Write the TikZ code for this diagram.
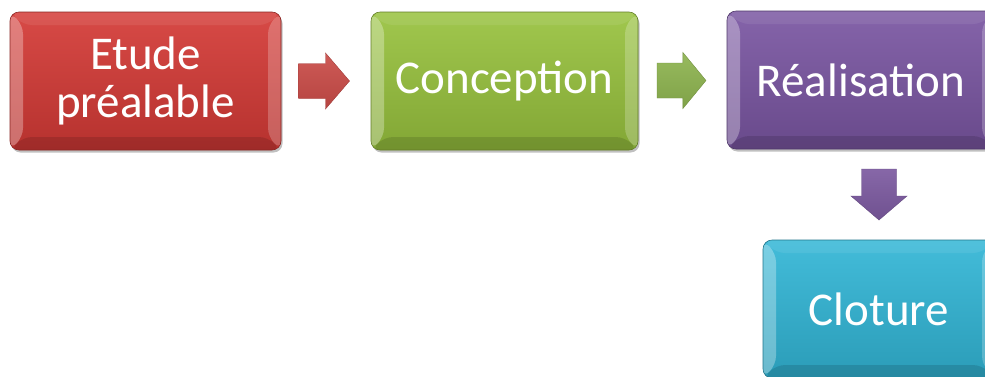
\documentclass[tikz,border=0pt]{standalone}
\usepackage{fontspec}
\setmainfont{Carlito}
\usetikzlibrary{shadows,calc}

\definecolor{stepred}{RGB}{212,58,54}
\definecolor{stepgreen}{RGB}{152,194,62}
\definecolor{steppurple}{RGB}{122,86,162}
\definecolor{stepcyan}{RGB}{50,182,214}
\definecolor{arrowred}{RGB}{202,76,72}
\definecolor{arrowgreen}{RGB}{142,180,80}
\definecolor{arrowpurple}{RGB}{124,90,160}

\tikzset{
  bevelbox/.style={
    rounded corners=9pt, minimum width=268pt, minimum height=138pt,
    inner sep=0pt, text=white, align=center,
    font=\fontsize{47}{48}\selectfont,
    top color=#1!92!white, bottom color=#1!86!black,
    draw=#1!65!black, line width=0.6pt,
    drop shadow={shadow xshift=1.5pt, shadow yshift=-2.5pt, opacity=0.35, fill=black!70},
    path picture={
      % left bevel face (light)
      \fill[white, opacity=0.30]
        (path picture bounding box.north west) -- (path picture bounding box.south west)
        -- ([shift={(13pt,13pt)}]path picture bounding box.south west)
        -- ([shift={(13pt,-13pt)}]path picture bounding box.north west) -- cycle;
      % right bevel face
      \fill[white, opacity=0.22]
        (path picture bounding box.north east) -- (path picture bounding box.south east)
        -- ([shift={(-13pt,13pt)}]path picture bounding box.south east)
        -- ([shift={(-13pt,-13pt)}]path picture bounding box.north east) -- cycle;
      % top bevel face
      \fill[white, opacity=0.08]
        (path picture bounding box.north west) -- (path picture bounding box.north east)
        -- ([shift={(-13pt,-13pt)}]path picture bounding box.north east)
        -- ([shift={(13pt,-13pt)}]path picture bounding box.north west) -- cycle;
      % bottom bevel face (dark)
      \fill[black, opacity=0.12]
        (path picture bounding box.south west) -- (path picture bounding box.south east)
        -- ([shift={(-13pt,13pt)}]path picture bounding box.south east)
        -- ([shift={(13pt,13pt)}]path picture bounding box.south west) -- cycle;
    }
  },
  % block arrow pointing along +x, centred on its position
  blockarrow/.pic={
    \path[pic actions]
      (-25.5,-17.5) -- (1.5,-17.5) -- (1.5,-28) -- (25.5,0)
      -- (1.5,28) -- (1.5,17.5) -- (-25.5,17.5) -- cycle;
  },
  arrowfill/.style={
    top color=#1!92!white, bottom color=#1!90!black,
    draw=#1!80!black, line width=0.4pt, line join=miter
  }
}

\begin{document}
\begin{tikzpicture}[x=1pt,y=-1pt]
  \path[use as bounding box] (0,0) rectangle (985,376);
  \fill[white] (0,0) rectangle (985,376);
  \clip (0,0) rectangle (985,376);

  % process steps
  \node[bevelbox=stepred, minimum width=271pt] (etude) at (145.5,81) {Etude\\préalable};
  \node[bevelbox=stepgreen, minimum width=267pt] (conception) at (504.5,81) {Conception};
  \node[bevelbox=steppurple] (realisation) at (861,80) {Réalisation};
  \node[bevelbox=stepcyan, minimum width=232pt] (cloture) at (879,309) {Cloture};

  % block arrows between the steps
  \coordinate (m1) at ($(etude.east)!0.5!(conception.west)+(-2,0)$);
  \coordinate (m2) at ($(conception.east)!0.5!(realisation.west)+(-1,0)$);
  \coordinate (m3) at ($(realisation.south)!0.5!(cloture.north)+(9,0)$);
  \pic[arrowfill=arrowred] (a1) at (m1) {blockarrow};
  \pic[arrowfill=arrowgreen, xscale=0.96] (a2) at (m2) {blockarrow};
  \pic[arrowfill=arrowpurple, rotate=-90] (a3) at (m3) {blockarrow};
\end{tikzpicture}
\end{document}
